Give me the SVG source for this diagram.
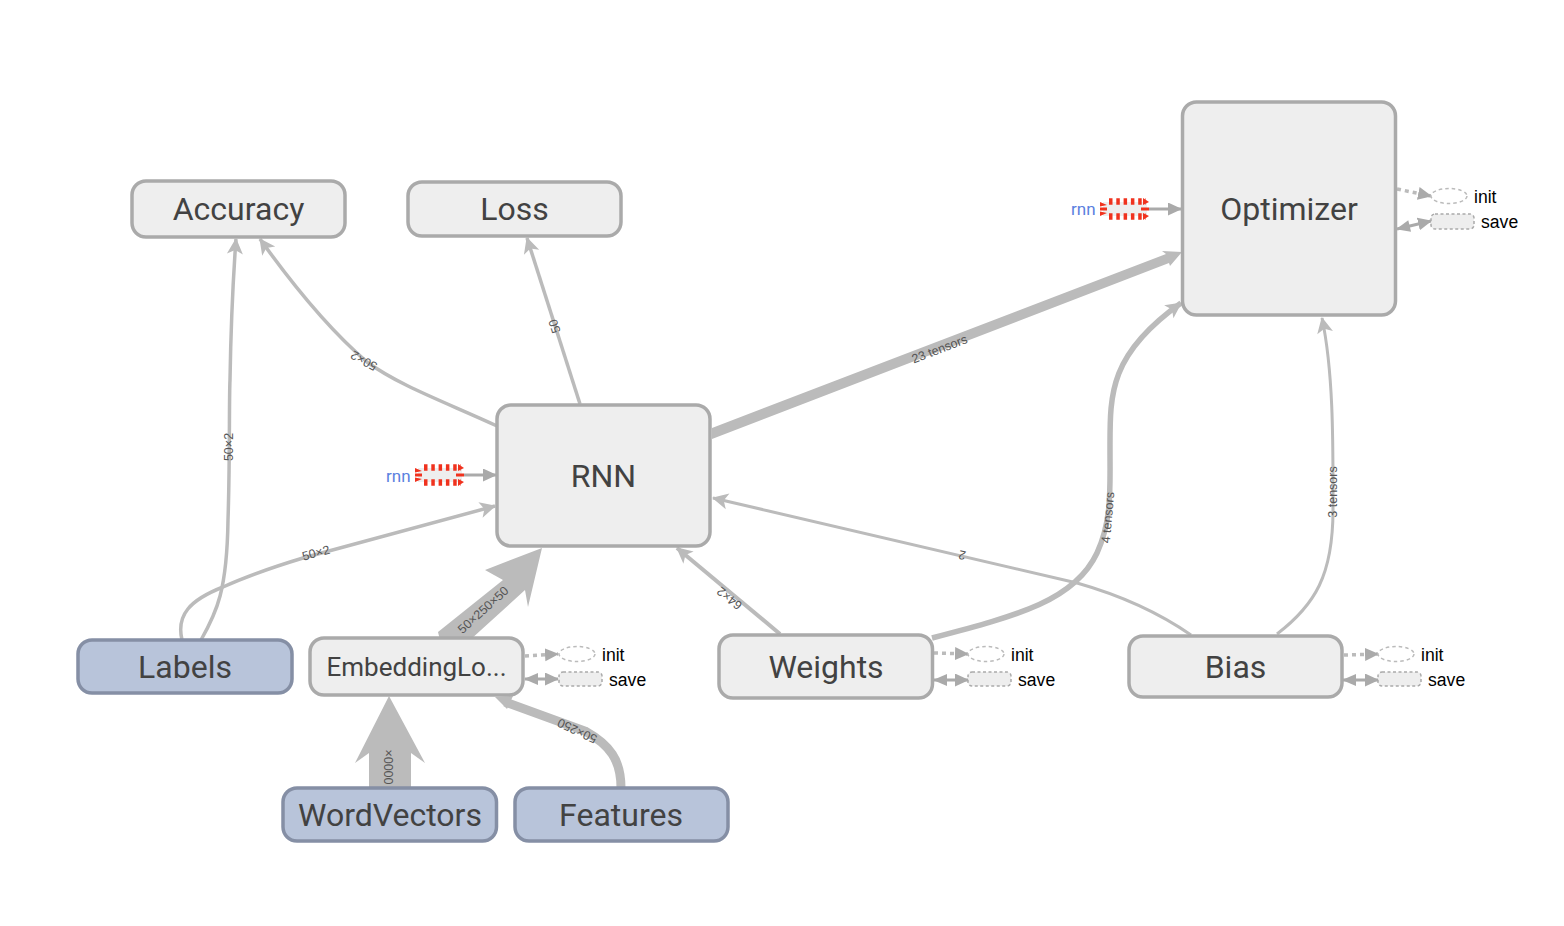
<svg xmlns="http://www.w3.org/2000/svg" width="1564" height="926" viewBox="0 0 1564 926">
<style>
.n{fill:#eee;stroke:#aaa;stroke-width:3.500}
.b{fill:#b8c4da;stroke:#858fa5;stroke-width:3.500}
.t{font-family:Roboto,sans-serif;font-size:32px;fill:#424242;text-anchor:middle}
.e{fill:none;stroke:#bbb;stroke-width:3.500;marker-end:url(#h)}
.l{font-family:"Liberation Sans",Arial,sans-serif;font-size:12.500px;fill:#555;text-anchor:middle}
.a{font-family:"Liberation Sans",Arial,sans-serif;font-size:17.600px;fill:#000}
.f{fill:#bbb}
.d{fill:none;stroke:#bbb;stroke-width:3.500;stroke-dasharray:4 4;marker-end:url(#t)}
.s{fill:none;stroke:#aaa;stroke-width:3;marker-end:url(#t);marker-start:url(#tr)}
.i{fill:#fff;stroke:#bbb;stroke-width:1.500;stroke-dasharray:3.500 3}
.r{fill:#eee;stroke:#aaa;stroke-width:1.500;stroke-dasharray:3 2.500}
.m{font-family:Roboto,sans-serif;font-size:17px;fill:#5b7fe0}
.q{stroke:#f0321e;fill:none}
.w{fill:#f0321e}
.p{fill:none;stroke:#aaa;stroke-width:3;marker-end:url(#t)}
</style>
<defs>
<marker id="h" markerUnits="userSpaceOnUse" markerWidth="18" markerHeight="20" refX="15" refY="9" orient="auto" overflow="visible"><path d="M0,1 L16,9 L0,17 L4,9z" fill="#bbb"/></marker>
<marker id="t" markerUnits="userSpaceOnUse" markerWidth="16" markerHeight="15" refX="13" refY="6.500" orient="auto"><path d="M0,0 L14,6.500 L0,13z" fill="#aaa"/></marker>
<marker id="tr" markerUnits="userSpaceOnUse" markerWidth="16" markerHeight="15" refX="1" refY="6" orient="auto"><path d="M14,0 L0,6 L14,12z" fill="#aaa"/></marker>
<g id="ser">
<rect x="3" y="-7" width="44" height="14" fill="#eee"/>
<path class="q" stroke-width="6.500" stroke-dasharray="3.500 3.800" d="M9,-7.500 H46 M9,7.500 H46"/>
<path class="q" stroke-width="3" d="M0,0 H7 M41,0 H49"/>
<path class="w" d="M0,-7 L7,-4 L0,-2.500z M0,7 L7,4 L0,2.500z M43,-11 L49,-7 L43,-4z M43,11 L49,7 L43,4z"/>
</g>
</defs>
<g id="connectors">
<path class="e" d="M201,640 C217,612 227,590 228,520 C230,460 229,400 230,380 C231,320 233,280 236,239"/>
<path class="e" d="M497,426 C445,402 400,386 367,362 C332,332 295,288 260,239"/>
<path class="e" d="M580,404 L527,238"/>
<path class="e" d="M182,640 C176,615 190,600 223,587 C245,577 270,568 303,558 L495,506"/>
<path class="e" style="stroke-width:4" d="M780,634 L677,548"/>
<path class="e" style="stroke-width:3" d="M1191,635 C1165,617 1130,598 1077,583 L713,498"/>
<path class="e" style="stroke-width:3" d="M1277,634 C1315,605 1333,575 1333,510 C1333,450 1334,375 1322,318"/>
<path class="e" style="stroke-width:5.500" d="M932,638 C1020,615 1075,600 1097,553 C1112,520 1110,490 1110,450 C1110,395 1108,355 1181,303"/>
<polygon class="f" points="712,428 1166,254 1162,251 1182,252 1170,266 1169,263 712,439"/>
<polygon class="f" points="542,548 485,570 503,580 438,632 440,640 470,640 525,590 528,607"/>
<polygon class="f" points="389,696 355,763 369,753 369,788 411,788 411,753 425,763"/>
<path fill="none" stroke="#bbb" stroke-width="9" d="M621,788 C621,760 610,745 585,731 L505,702"/>
<polygon class="f" points="495,697 513,696 507,709"/>
<path class="p" d="M1149,209 L1181,209"/>
<path class="p" d="M464,475 L496,475"/>
<path class="d" d="M1397,189 L1431,196"/>
<path class="s" d="M1397,229 L1431,221"/>
<path class="d" d="M525,656 L558,654"/>
<path class="s" d="M525,679 L558,679"/>
<path class="d" d="M934,653 L968,654"/>
<path class="s" d="M934,680 L968,680"/>
<path class="d" d="M1344,655 L1378,654"/>
<path class="s" d="M1343,680 L1378,680"/>
<text class="l" transform="translate(233,447) rotate(-90)">50×2</text>
<text class="l" transform="translate(366,357) rotate(209)">50×2</text>
<text class="l" transform="translate(558.500,325) rotate(252)">50</text>
<text class="l" transform="translate(941,353) rotate(-21)">23 tensors</text>
<text class="l" transform="translate(317,557) rotate(-15)">50×2</text>
<text class="l" transform="translate(486,613) rotate(-42)">50×250×50</text>
<text class="l" transform="translate(393,767) rotate(-90)">0000×</text>
<text class="l" transform="translate(579,727) rotate(205)">50×250</text>
<text class="l" transform="translate(732,595) rotate(218)">64×2</text>
<text class="l" transform="translate(963,551) rotate(193)">2</text>
<text class="l" transform="translate(1112,518) rotate(-85)">4 tensors</text>
<text class="l" transform="translate(1336.500,492) rotate(-90)">3 tensors</text>
</g>
<g id="accuracy"><rect class="n" x="132" y="181" width="213" height="56" rx="14"/><text class="t" x="238.500" y="220">Accuracy</text></g>
<g id="loss"><rect class="n" x="408" y="182" width="213" height="54" rx="14"/><text class="t" x="514.500" y="220">Loss</text></g>
<g id="optimizer"><rect class="n" x="1182.500" y="102" width="213" height="213" rx="14"/><text class="t" x="1289" y="220">Optimizer</text></g>
<g id="rnn"><rect class="n" x="497" y="405" width="213" height="141" rx="14"/><text class="t" x="603.500" y="487">RNN</text></g>
<g id="labels"><rect class="b" x="78" y="640" width="214" height="53" rx="14"/><text class="t" x="185" y="678">Labels</text></g>
<g id="embedding"><rect class="n" x="310" y="638" width="213" height="57" rx="14"/><text class="t" style="font-size:26px" x="416.500" y="676">EmbeddingLo...</text></g>
<g id="weights"><rect class="n" x="719" y="635" width="213.500" height="63" rx="14"/><text class="t" x="826" y="678">Weights</text></g>
<g id="bias"><rect class="n" x="1129" y="636" width="213" height="61" rx="14"/><text class="t" x="1235.500" y="678">Bias</text></g>
<g id="wordvectors"><rect class="b" x="283" y="788" width="213.500" height="53" rx="14"/><text class="t" x="390" y="826">WordVectors</text></g>
<g id="features"><rect class="b" x="515" y="788" width="213" height="53" rx="14"/><text class="t" x="621" y="826">Features</text></g>
<g id="rnn-aux-optimizer"><use href="#ser" x="1100" y="209"/><text class="m" x="1071" y="215">rnn</text></g>
<g id="rnn-aux-rnn"><use href="#ser" x="415" y="475"/><text class="m" x="386" y="482">rnn</text></g>
<g id="optimizer-aux"><ellipse class="i" cx="1449" cy="196" rx="18" ry="7.500"/><text class="a" x="1474" y="202.500">init</text><rect class="r" x="1431" y="214" width="43" height="15" rx="4"/><text class="a" x="1481" y="228">save</text></g>
<g id="embedding-aux"><ellipse class="i" cx="577" cy="654" rx="18" ry="7.500"/><text class="a" x="602" y="660.500">init</text><rect class="r" x="559" y="672" width="43" height="14" rx="4"/><text class="a" x="609" y="686">save</text></g>
<g id="weights-aux"><ellipse class="i" cx="986" cy="654" rx="18" ry="7.500"/><text class="a" x="1011" y="660.500">init</text><rect class="r" x="968" y="672" width="43" height="14" rx="4"/><text class="a" x="1018" y="686">save</text></g>
<g id="bias-aux"><ellipse class="i" cx="1396" cy="654" rx="18" ry="7.500"/><text class="a" x="1421" y="660.500">init</text><rect class="r" x="1378" y="672" width="43" height="14" rx="4"/><text class="a" x="1428" y="686">save</text></g>
</svg>
